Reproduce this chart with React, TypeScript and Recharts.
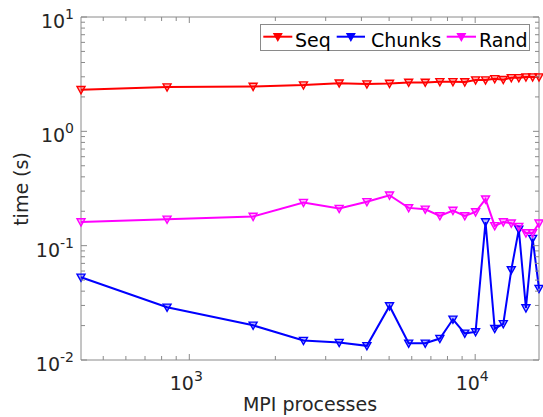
import { LineChart, Line, XAxis, YAxis, Legend, ReferenceArea } from "recharts";

// MPI process counts (x) and timings in seconds (y)
const processes = [
  418, 836, 1672, 2508, 3344, 4180, 5016, 5852, 6688, 7524, 8360, 9196, 10032,
  10868, 11704, 12540, 13376, 14212, 15048, 15884, 16720,
];
const seqTime = [
  2.31, 2.44, 2.47, 2.54, 2.64, 2.59, 2.62, 2.68, 2.68, 2.71, 2.71, 2.7, 2.81,
  2.81, 2.88, 2.83, 2.94, 2.94, 2.98, 2.98, 2.98,
];
const chunksTime = [
  0.0529, 0.0289, 0.0201, 0.0148, 0.0142, 0.0133, 0.0297, 0.014, 0.014, 0.0154,
  0.0227, 0.0171, 0.0176, 0.161, 0.0188, 0.0207, 0.0614, 0.139, 0.0285, 0.1154,
  0.0421,
];
const randTime = [
  0.161, 0.17, 0.18, 0.238, 0.211, 0.242, 0.276, 0.214, 0.208, 0.182, 0.203,
  0.182, 0.197, 0.255, 0.149, 0.161, 0.157, 0.147, 0.129, 0.129, 0.157,
];

const xMajor = [1000, 10000];
const xMinor = [500, 600, 700, 800, 900, 2000, 3000, 4000, 5000, 6000, 7000, 8000, 9000];
const yMajor = [0.01, 0.1, 1, 10];
const yMinor = [
  0.02, 0.03, 0.04, 0.05, 0.06, 0.07, 0.08, 0.09, 0.2, 0.3, 0.4, 0.5, 0.6, 0.7,
  0.8, 0.9, 2, 3, 4, 5, 6, 7, 8, 9,
];

const series = [
  { key: "seq", name: "Seq", color: "#ff0000" },
  { key: "chunks", name: "Chunks", color: "#0000ff" },
  { key: "rand", name: "Rand", color: "#ff00ff" },
];

const data = processes.map((p, i) => ({
  p,
  seq: seqTime[i],
  chunks: chunksTime[i],
  rand: randTime[i],
}));

const W = 543;
const H = 417;
const LEFT = 81;
const RIGHT = 539;
const TOP = 17;
const BOTTOM = 360;
const FONT = "DejaVu Sans";
const TEXT = "#262626";
const FRAME = "#8a8a8a";

const isMajor = (v: number) => Math.abs(Math.log10(v) - Math.round(Math.log10(v))) < 1e-9;

const XTick = (props: any) => {
  const { x, payload } = props;
  const v = payload.value;
  const major = isMajor(v);
  const len = major ? 6 : 4;
  return (
    <g>
      <line x1={x} x2={x} y1={BOTTOM} y2={BOTTOM - len} stroke={FRAME} />
      <line x1={x} x2={x} y1={TOP} y2={TOP + len} stroke={FRAME} />
      {major && (
        <text x={x - 3} y={390} textAnchor="middle" fontFamily={FONT} fontSize={19} fill={TEXT}>
          10
          <tspan dy={-9} fontSize={14}>
            {Math.round(Math.log10(v))}
          </tspan>
        </text>
      )}
    </g>
  );
};

const YTick = (props: any) => {
  const { y, payload } = props;
  const v = payload.value;
  const major = isMajor(v);
  const len = major ? 6 : 4;
  return (
    <g>
      <line x1={LEFT} x2={LEFT + len} y1={y} y2={y} stroke={FRAME} />
      <line x1={RIGHT} x2={RIGHT - len} y1={y} y2={y} stroke={FRAME} />
      {major && (
        <text x={74} y={y + 11} textAnchor="end" fontFamily={FONT} fontSize={19} fill={TEXT}>
          10
          <tspan dy={-9} fontSize={14}>
            {Math.round(Math.log10(v))}
          </tspan>
        </text>
      )}
    </g>
  );
};

const triangle = (cx: number, cy: number, s = 1) =>
  `M${cx - 4 * s},${cy - 3.2 * s} L${cx + 4 * s},${cy - 3.2 * s} L${cx},${cy + 4 * s} Z`;

const makeDot = (color: string) => (props: any) => {
  const { cx, cy, index } = props;
  if (cx == null || cy == null) return <g key={index} />;
  return (
    <path
      key={index}
      d={triangle(cx, cy)}
      fill={color}
      fillOpacity={0.3}
      stroke={color}
      strokeWidth={1.4}
    />
  );
};

const legendItems = [
  { ...series[0], x1: 3.3, x2: 32.3, tx: 35 },
  { ...series[1], x1: 76.7, x2: 105, tx: 111 },
  { ...series[2], x1: 186.7, x2: 216, tx: 219 },
];

const renderLegend = () => (
  <svg width={270} height={27} style={{ display: "block" }}>
    <rect x={0.5} y={0.5} width={269} height={26} fill="#ffffff" stroke={FRAME} />
    {legendItems.map((it) => (
      <g key={it.key}>
        <line x1={it.x1} x2={it.x2} y1={12.7} y2={12.7} stroke={it.color} strokeWidth={2} />
        <path d={triangle((it.x1 + it.x2) / 2, 12.7)} fill={it.color} stroke={it.color} strokeWidth={1.2} />
        <text x={it.tx} y={22.7} fontFamily={FONT} fontSize={19} fill="#000000">
          {it.name}
        </text>
      </g>
    ))}
  </svg>
);

export default function App() {
  return (
    <div style={{ position: "absolute", left: 0, top: 0, background: "#ffffff" }}>
      <LineChart
        width={W}
        height={H}
        data={data}
        margin={{ top: TOP, right: W - RIGHT, left: 0, bottom: 0 }}
      >
        <XAxis
          dataKey="p"
          type="number"
          scale="log"
          domain={[418, 16720]}
          ticks={[...xMinor, ...xMajor]}
          interval={0}
          height={H - BOTTOM}
          axisLine={false}
          tickLine={false}
          tick={<XTick />}
          label={{
            content: () => (
              <text x={310} y={411} textAnchor="middle" fontFamily={FONT} fontSize={19} fill={TEXT}>
                MPI processes
              </text>
            ),
          }}
        />
        <YAxis
          type="number"
          scale="log"
          domain={[0.01, 10]}
          ticks={[...yMinor, ...yMajor]}
          interval={0}
          width={LEFT}
          axisLine={false}
          tickLine={false}
          tick={<YTick />}
          label={{
            content: () => (
              <text
                x={28}
                y={189}
                transform="rotate(-90 28 189)"
                textAnchor="middle"
                fontFamily={FONT}
                fontSize={19}
                fill={TEXT}
              >
                time (s)
              </text>
            ),
          }}
        />
        <ReferenceArea
          x1={418}
          x2={16720}
          y1={0.01}
          y2={10}
          fill="none"
          fillOpacity={0}
          stroke={FRAME}
          strokeOpacity={1}
        />
        {series.map((s) => (
          <Line
            key={s.key}
            dataKey={s.key}
            name={s.name}
            type="linear"
            stroke={s.color}
            strokeWidth={2}
            dot={makeDot(s.color)}
            activeDot={false}
            isAnimationActive={false}
          />
        ))}
        <Legend
          layout="horizontal"
          verticalAlign="middle"
          align="center"
          content={renderLegend}
          wrapperStyle={{ left: 260, top: 24, width: 270, height: 27 }}
        />
      </LineChart>
    </div>
  );
}
